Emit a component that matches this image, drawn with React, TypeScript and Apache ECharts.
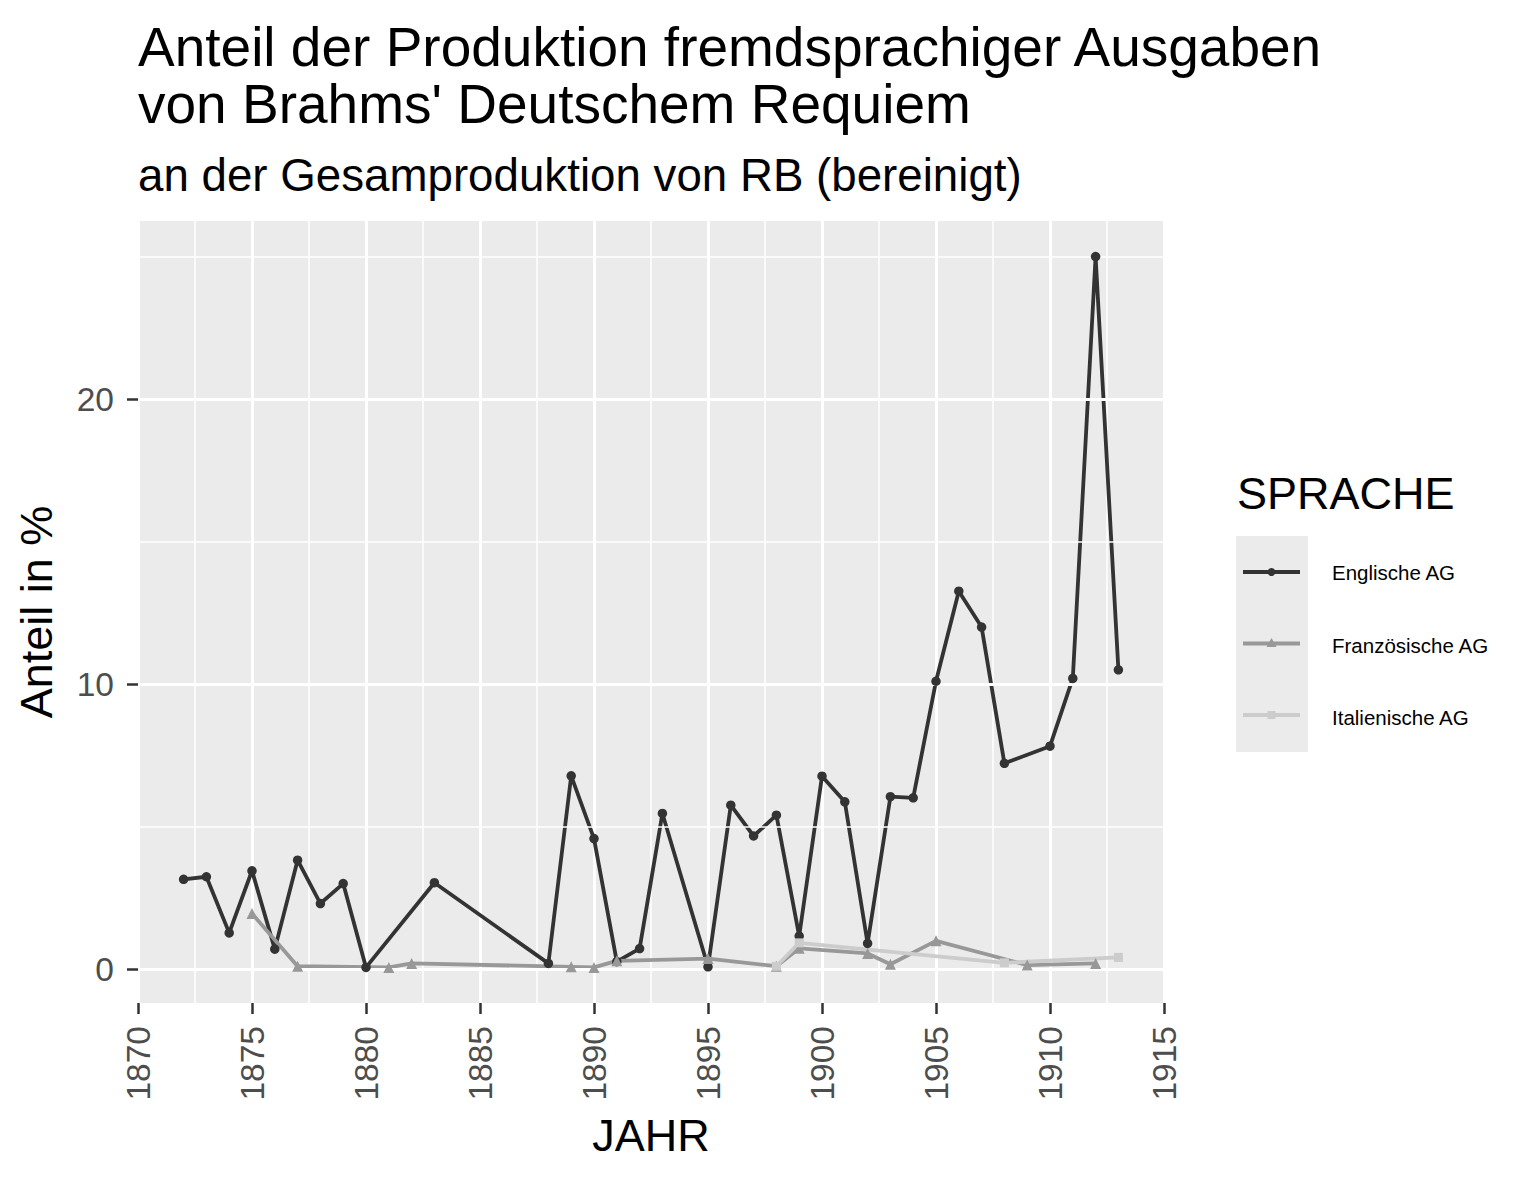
import React, { useEffect, useRef } from "react";
import * as echarts from "echarts";

const englishYears = [1872, 1873, 1874, 1875, 1876, 1877, 1878, 1879, 1880, 1883, 1888, 1889, 1890, 1891, 1892, 1893, 1895, 1896, 1897, 1898, 1899, 1900, 1901, 1902, 1903, 1904, 1905, 1906, 1907, 1908, 1910, 1911, 1912, 1913];
const englishValues = [3.15, 3.24, 1.27, 3.45, 0.7, 3.82, 2.3, 3.0, 0.06, 3.03, 0.2, 6.78, 4.58, 0.26, 0.72, 5.46, 0.08, 5.75, 4.67, 5.4, 1.16, 6.77, 5.87, 0.9, 6.05, 6.01, 10.1, 13.26, 12.0, 7.22, 7.82, 10.2, 25.0, 10.5];

const frenchYears = [1875, 1877, 1881, 1882, 1889, 1890, 1891, 1895, 1898, 1899, 1902, 1903, 1905, 1909, 1912];
const frenchValues = [1.95, 0.1, 0.06, 0.2, 0.08, 0.06, 0.29, 0.37, 0.1, 0.73, 0.55, 0.17, 0.99, 0.14, 0.2];

const italianYears = [1898, 1899, 1908, 1913];
const italianValues = [0.1, 0.92, 0.22, 0.41];

const seriesNames = ["Englische AG", "Französische AG", "Italienische AG"];
const seriesColors = ["#333333", "#989898", "#CCCCCC"];
const seriesSymbols = ["circle", "triangle", "rect"];

const xTickMin = 1870;
const xTickMax = 1915;
const yMin = -1.19;
const yMax = 26.25;
const yMajorTicks = [0, 10, 20];
const yMinorTicks = [5, 15, 25];

const titleText = "Anteil der Produktion fremdsprachiger Ausgaben\nvon Brahms' Deutschem Requiem";
const subtitleText = "an der Gesamproduktion von RB (bereinigt)";
const xName = "JAHR";
const yName = "Anteil in %";
const legendTitle = "SPRACHE";

const FONT = "'Liberation Sans', Arial, sans-serif";

const zip = (xs: number[], ys: number[]) => xs.map((x, i) => [x, ys[i]]);

export default function App() {
  const ref = useRef<HTMLDivElement>(null);
  useEffect(() => {
    if (!ref.current) return;
    const chart = echarts.init(ref.current, null, { renderer: "svg" });
    const dataSets = [
      zip(englishYears, englishValues),
      zip(frenchYears, frenchValues),
      zip(italianYears, italianValues),
    ];
    const sizes = [9.5, 11, 9];
    const lineSeries = seriesNames.map((name, i) => ({
      name,
      type: "line",
      data: dataSets[i],
      z: 3 + i,
      symbol: "none",
      color: seriesColors[i],
      lineStyle: { color: seriesColors[i], width: 3.8 },
      itemStyle: { color: seriesColors[i] },
      legendHoverLink: false,
    }));
    const pointSeries = seriesNames.map((name, i) => ({
      name,
      type: "scatter",
      data: dataSets[i],
      z: 6 + i,
      symbol: seriesSymbols[i],
      symbolSize: sizes[i],
      itemStyle: { color: seriesColors[i], opacity: 1 },
    }));
    const option: any = {
      animation: false,
      backgroundColor: "#FFFFFF",
      textStyle: { fontFamily: FONT },
      title: [
        {
          text: titleText,
          left: 133,
          top: 13,
          padding: 5,
          textStyle: { fontFamily: FONT, fontSize: 55, fontWeight: "normal", color: "#000", lineHeight: 57 },
        },
        {
          text: subtitleText,
          left: 133,
          top: 147,
          padding: 5,
          textStyle: { fontFamily: FONT, fontSize: 45.7, fontWeight: "normal", color: "#000", lineHeight: 46 },
        },
        {
          text: legendTitle,
          left: 1232,
          top: 465,
          padding: 5,
          textStyle: { fontFamily: FONT, fontSize: 45, fontWeight: "normal", color: "#000", lineHeight: 46 },
        },
      ],
      graphic: [
        {
          type: "rect",
          left: 1236,
          top: 536,
          shape: { width: 72, height: 216 },
          style: { fill: "#EBEBEB" },
          z: -1,
        },
      ],
      legend: {
        orient: "vertical",
        left: 1243,
        top: 562,
        padding: 0,
        itemWidth: 57,
        itemHeight: 10,
        itemGap: 51.5,
        data: seriesNames.map((n, i) => ({ name: n, icon: "none" })),
        textStyle: { fontFamily: FONT, fontSize: 20.5, color: "#000", padding: [0, 0, 0, 27], lineHeight: 20 },
      },
      grid: {
        left: 138,
        right: 371,
        top: 221,
        bottom: 178,
        show: true,
        backgroundColor: "#EBEBEB",
        borderWidth: 0,
        containLabel: false,
      },
      xAxis: {
        type: "value",
        min: xTickMin,
        max: xTickMax,
        interval: 5,
        name: xName,
        nameLocation: "middle",
        nameGap: 110,
        nameTextStyle: { fontFamily: FONT, fontSize: 45, color: "#000" },
        axisLine: { show: false, onZero: false },
        axisTick: { show: true, length: 11, lineStyle: { color: "#333333", width: 2.5 } },
        axisLabel: {
          rotate: 90,
          fontSize: 33.5,
          color: "#4D4D4D",
          margin: 23,
          fontFamily: FONT,
          formatter: (v: number) => String(v),
        },
        splitLine: { show: true, lineStyle: { color: "#FFFFFF", width: 3 } },
        minorTick: { show: false, splitNumber: 2 },
        minorSplitLine: { show: true, lineStyle: { color: "#FFFFFF", width: 1.5 } },
      },
      yAxis: {
        type: "value",
        min: yMin,
        max: yMax,
        name: yName,
        nameLocation: "middle",
        nameGap: 79,
        nameTextStyle: { fontFamily: FONT, fontSize: 45, color: "#000" },
        axisLine: { show: false, onZero: false },
        axisTick: { show: true, length: 11, customValues: yMajorTicks, lineStyle: { color: "#333333", width: 2.5 } },
        axisLabel: { customValues: yMajorTicks, fontSize: 33.5, color: "#4D4D4D", margin: 24, fontFamily: FONT },
        splitLine: { show: false },
      },
      series: [
        {
          name: "__grid",
          type: "line",
          data: [],
          z: 1,
          silent: true,
          markLine: {
            silent: true,
            symbol: "none",
            label: { show: false },
            data: [
              ...yMinorTicks.map((v) => ({ yAxis: v, lineStyle: { color: "#FFFFFF", width: 1.5, type: "solid" } })),
              ...yMajorTicks.map((v) => ({ yAxis: v, lineStyle: { color: "#FFFFFF", width: 3, type: "solid" } })),
            ],
          },
        },
        ...lineSeries,
        ...pointSeries,
      ],
    };
    chart.setOption(option);
    // legend keys drawn as ggplot-style line + point
    const keyGraphics: any[] = [];
    seriesNames.forEach((n, i) => {
      const cy = 572 + i * 71.5;
      keyGraphics.push({
        type: "line",
        shape: { x1: 1243, y1: cy, x2: 1300, y2: cy },
        style: { stroke: seriesColors[i], lineWidth: 3.8 },
        z: 10,
      });
      if (seriesSymbols[i] === "circle") {
        keyGraphics.push({ type: "circle", shape: { cx: 1271.5, cy, r: 4 }, style: { fill: seriesColors[i] }, z: 11 });
      } else if (seriesSymbols[i] === "triangle") {
        keyGraphics.push({
          type: "polygon",
          shape: { points: [[1271.5, cy - 5.5], [1266.5, cy + 3.5], [1276.5, cy + 3.5]] },
          style: { fill: seriesColors[i] },
          z: 11,
        });
      } else {
        keyGraphics.push({ type: "rect", shape: { x: 1267.5, y: cy - 4, width: 8, height: 8 }, style: { fill: seriesColors[i] }, z: 11 });
      }
    });
    chart.setOption({ graphic: [option.graphic[0], ...keyGraphics] });
    return () => chart.dispose();
  }, []);
  return (
    <div
      ref={ref}
      style={{ position: "fixed", left: 0, top: 0, width: 1535, height: 1181, background: "#fff" }}
    />
  );
}
